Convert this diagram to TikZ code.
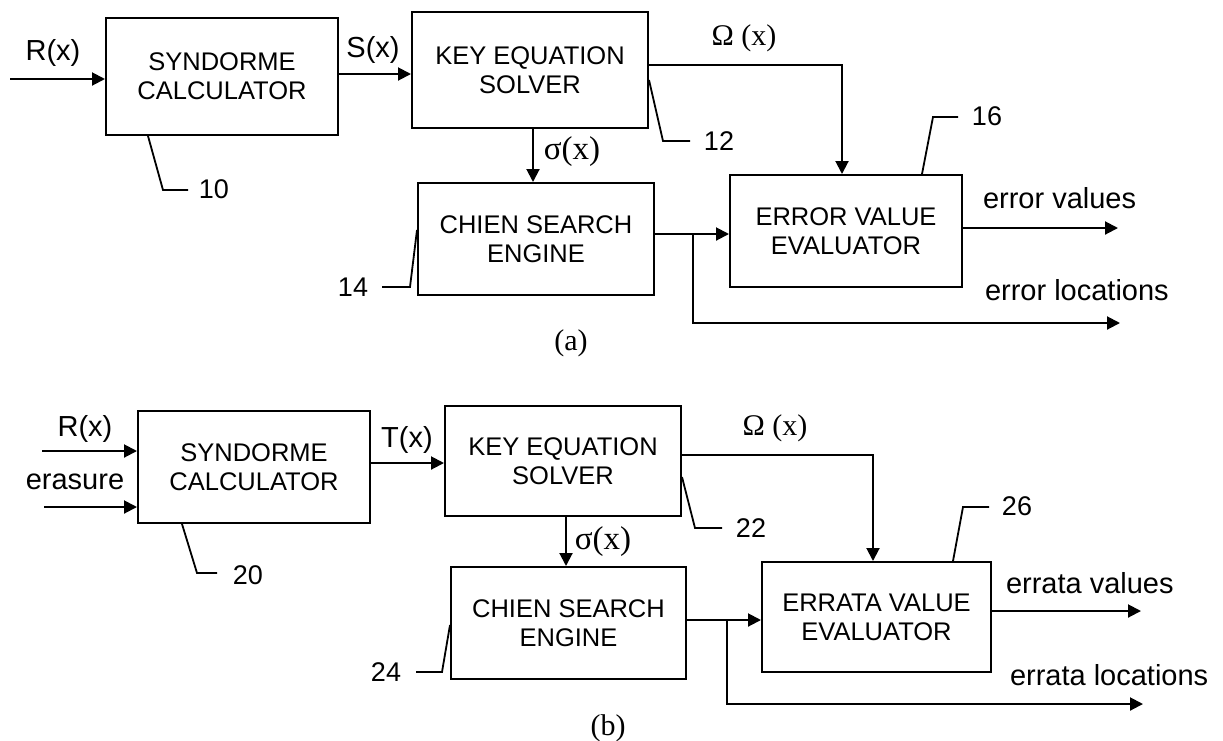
\documentclass[tikz,border=0pt]{standalone}
\usepackage{fontspec}
\setmainfont{Liberation Sans}
\newfontfamily\seriffont{Liberation Serif}
\usetikzlibrary{arrows.meta}
\begin{document}
\begin{tikzpicture}[x=1pt,y=-1pt,
  line width=2pt,
  blk/.style={draw, rectangle, align=center, font=\fontsize{25.5}{29}\selectfont, inner sep=0pt},
  arr/.style={-{Triangle[length=13pt,width=13pt]}},
  lbl/.style={font=\fontsize{29}{32}\selectfont, inner sep=0pt},
  sym/.style={font=\seriffont\fontsize{30}{32}\selectfont, inner sep=0pt},
  sig/.style={font=\seriffont\fontsize{33}{35}\selectfont, inner sep=0pt},
  num/.style={font=\fontsize{27}{29}\selectfont, inner sep=0pt},
  lead/.style={line width=1.8pt}]
\useasboundingbox (0,0) rectangle (1223,740);

% ---------------- (a) ----------------
\node[blk, minimum width=232pt, minimum height=117pt] (syna) at (222,76.5) {SYNDORME\\CALCULATOR};
\node[blk, minimum width=236pt, minimum height=116pt] (keya) at (530,70) {KEY EQUATION\\SOLVER};
\node[blk, minimum width=236pt, minimum height=112pt] (chiena) at (536,239) {CHIEN SEARCH\\ENGINE};
\node[blk, minimum width=232pt, minimum height=112pt] (erra) at (846,231) {ERROR VALUE\\EVALUATOR};

\node[lbl] (rxa) at (53,53) {R(x)};
\node[lbl] (sxa) at (373,50) {S(x)};
\node[sym] (oxa) at (744,38) {Ω (x)};
\node[sig] (sgxa) at (572,152) {σ(x)};
\node[lbl, anchor=west] (eva) at (982,198) {error values};
\node[lbl, anchor=west] (ela) at (984,290) {error locations};
\node[sym] (capa) at (571,343) {(a)};
\node[num] (n10) at (214,189) {10};
\node[num] (n12) at (719,141) {12};
\node[num] (n16) at (987,116) {16};
\node[num] (n14) at (353,287) {14};

\coordinate (ina) at (10,79);
\draw[arr] (ina) -- (ina -| syna.west);
\coordinate (sa) at (0,74);
\draw[arr] (syna.east |- sa) -- (keya.west |- sa);
\coordinate (oma) at (842,65);
\draw[arr] (keya.east |- oma) -- (oma) -- (oma |- erra.north);
\coordinate (sga) at (533,0);
\draw[arr] (keya.south -| sga) -- (chiena.north -| sga);
\coordinate (bra) at (693,234);
\draw[arr] (chiena.east |- bra) -- (erra.west |- bra);
\coordinate (loca) at (1120,323);
\draw[arr] (bra) |- (loca);
\coordinate (evta) at (1118,228);
\draw[arr] (erra.east |- evta) -- (evta);

\coordinate (l10) at (148,0);
\draw[lead] (syna.south -| l10) -- (163,190) -- (188,190);
\coordinate (l12) at (0,80);
\draw[lead] (keya.east |- l12) -- (663,141) -- (690,141);
\coordinate (l16) at (922,0);
\draw[lead] (erra.north -| l16) -- (933,117) -- (958,117);
\coordinate (l14) at (0,230);
\draw[lead] (chiena.west |- l14) -- (410,287) -- (382,287);

% ---------------- (b) ----------------
\node[blk, minimum width=232pt, minimum height=112pt] (synb) at (254,467) {SYNDORME\\CALCULATOR};
\node[blk, minimum width=236pt, minimum height=110pt] (keyb) at (563,461) {KEY EQUATION\\SOLVER};
\node[blk, minimum width=235pt, minimum height=112pt] (chienb) at (568.5,623) {CHIEN SEARCH\\ENGINE};
\node[blk, minimum width=229pt, minimum height=110pt] (errb) at (876.5,617) {ERRATA VALUE\\EVALUATOR};

\node[lbl] (rxb) at (85,429) {R(x)};
\node[lbl] (erab) at (75,482) {erasure};
\node[lbl] (txb) at (407,440) {T(x)};
\node[sym] (oxb) at (775,428) {Ω (x)};
\node[sig] (sgxb) at (603,542) {σ(x)};
\node[lbl, anchor=west] (evb) at (1005,583) {errata values};
\node[lbl, anchor=west] (elb) at (1009,675) {errata locations};
\node[sym] (capb) at (608,728) {(b)};
\node[num] (n20) at (248,575) {20};
\node[num] (n22) at (751,528) {22};
\node[num] (n26) at (1017,506) {26};
\node[num] (n24) at (386,672) {24};

\coordinate (inb1) at (42,451);
\draw[arr] (inb1) -- (inb1 -| synb.west);
\coordinate (inb2) at (44,507);
\draw[arr] (inb2) -- (inb2 -| synb.west);
\coordinate (tb) at (0,463);
\draw[arr] (synb.east |- tb) -- (keyb.west |- tb);
\coordinate (omb) at (873,455);
\draw[arr] (keyb.east |- omb) -- (omb) -- (omb |- errb.north);
\coordinate (sgb) at (566,0);
\draw[arr] (keyb.south -| sgb) -- (chienb.north -| sgb);
\coordinate (brb) at (727,620);
\draw[arr] (chienb.east |- brb) -- (errb.west |- brb);
\coordinate (locb) at (1143,704);
\draw[arr] (brb) |- (locb);
\coordinate (evtb) at (1141,611);
\draw[arr] (errb.east |- evtb) -- (evtb);

\coordinate (l20) at (182,0);
\draw[lead] (synb.south -| l20) -- (197,573) -- (217,573);
\coordinate (l22) at (0,477);
\draw[lead] (keyb.east |- l22) -- (695,528) -- (722,528);
\coordinate (l26) at (953,0);
\draw[lead] (errb.north -| l26) -- (963,507) -- (989,507);
\coordinate (l24) at (0,625);
\draw[lead] (chienb.west |- l24) -- (442,672) -- (416,672);
\end{tikzpicture}
\end{document}
